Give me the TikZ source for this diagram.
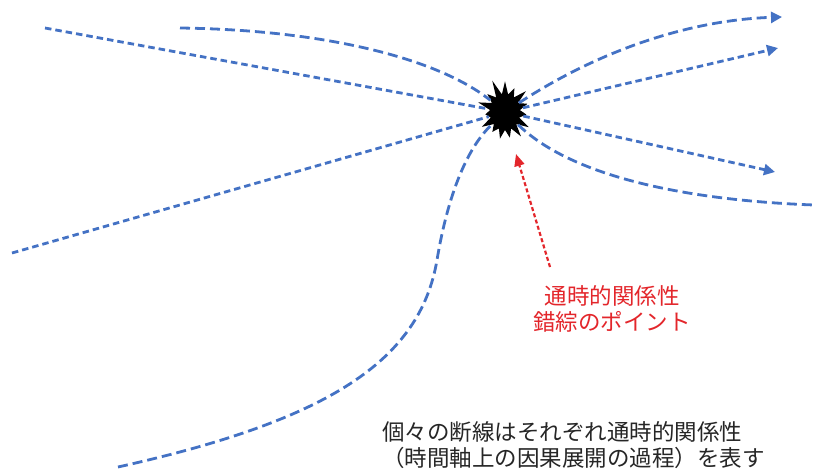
\documentclass[tikz,border=0pt]{standalone}
\usepackage{fontspec}
\newfontfamily\jp{Noto Sans CJK JP}
\usetikzlibrary{shapes.symbols,arrows.meta}
\definecolor{lblue}{HTML}{4472C4}
\definecolor{rred}{HTML}{E3262B}
\definecolor{tgray}{HTML}{262626}
\begin{document}
\begin{tikzpicture}[x=1pt,y=-1pt,
  flow/.style={draw=lblue, line width=2.8pt, dash pattern=on 10pt off 5pt},
  fine/.style={draw=lblue, line width=2.8pt, dash pattern=on 6.5pt off 4pt},
  tipb/.style={-{Triangle[length=11pt,width=11pt]}},
  redarr/.style={draw=rred, line width=2.2pt, dash pattern=on 4pt off 2.5pt, -{Triangle[length=12pt,width=10pt]}},
  jtext/.style={font=\jp\fontsize{22.5}{26}\selectfont, inner sep=0pt}]
\useasboundingbox (0,0) rectangle (814,469);
\node[starburst, fill=black, draw=none, starburst points=15, starburst point height=17pt,
      minimum width=64pt, minimum height=70pt, inner sep=0pt, random starburst=11] (burst) at (505,112) {};
\coordinate (a1) at (45,28);
\coordinate (a2) at (180,28);
\coordinate (a3) at (12,253);
\coordinate (a4) at (118,467);
\coordinate (m4) at (437,260);
\coordinate (b1) at (782,17);
\coordinate (b2) at (778,48);
\coordinate (b3) at (775,172);
\coordinate (b4) at (814,205);
\coordinate (r0) at (550,267);
\coordinate (r1) at (516,154);
% left side
\draw[fine] (a1) -- (burst);
\draw[flow] (a2) .. controls (330,30) and (440,60) .. (burst);
\draw[fine] (a3) -- (burst);
\draw[flow] (a4) .. controls (330,420) and (420,360) .. (m4) .. controls (447,200) and (465,150) .. (burst);
% right side
\draw[flow,tipb] (burst) .. controls (600,50) and (690,20) .. (b1);
\draw[fine,tipb] (burst) -- (b2);
\draw[fine,tipb] (burst) -- (b3);
\draw[flow] (burst) .. controls (570,175) and (680,200) .. (b4);
% red pointer
\draw[redarr] (r0) -- (r1);
\node[jtext, text=rred, align=center] (lbl) at (612,309) {通時的関係性\\錯綜のポイント};
\node[jtext, text=tgray, align=left, anchor=west] (note) at (382,445) {個々の断線はそれぞれ通時的関係性\\（時間軸上の因果展開の過程）を表す};
\end{tikzpicture}
\end{document}
